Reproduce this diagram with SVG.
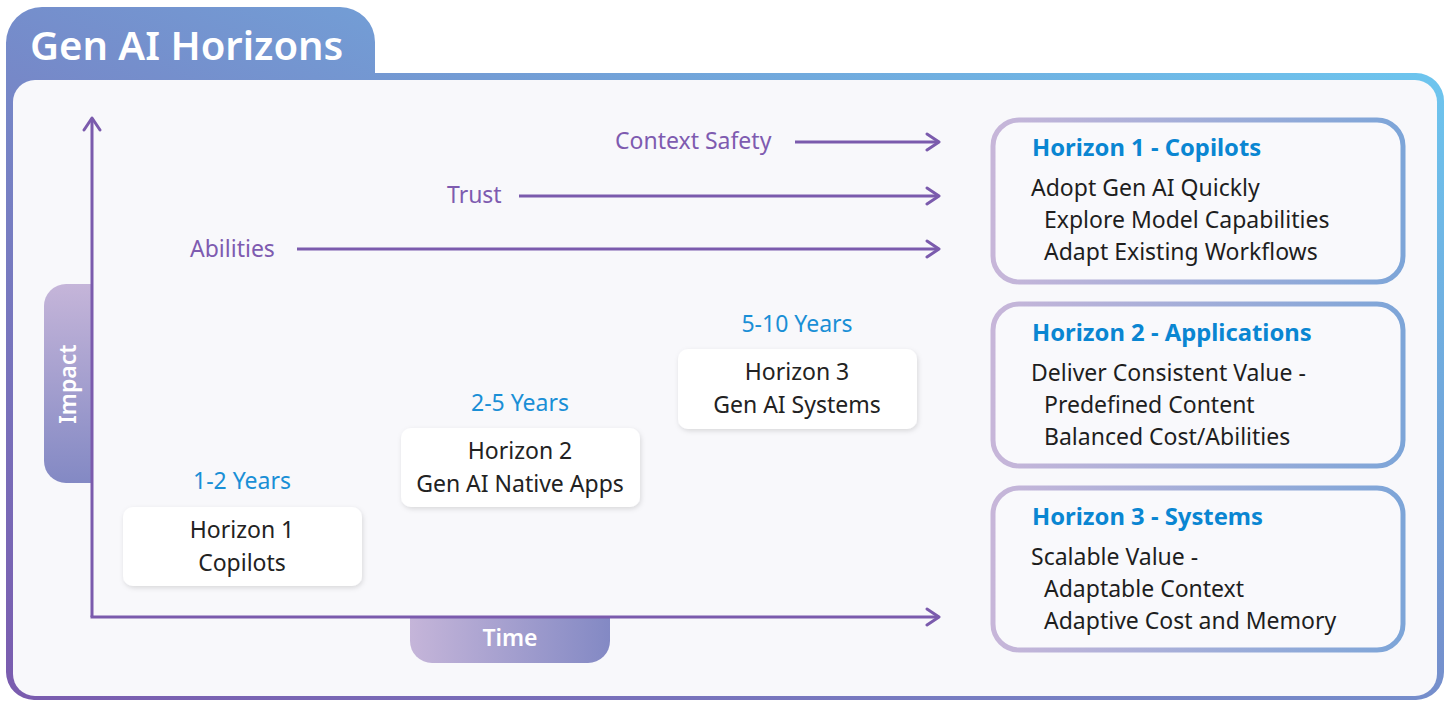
<svg xmlns="http://www.w3.org/2000/svg" width="1451" height="702" viewBox="0 0 1451 702">
<defs>
<linearGradient id="frameGrad" x1="0" y1="1" x2="1" y2="0">
<stop offset="0" stop-color="#7A5BAE"/>
<stop offset="0.45" stop-color="#7688C8"/>
<stop offset="1" stop-color="#6CCBF2"/>
</linearGradient>
<linearGradient id="vGrad" x1="0" y1="0" x2="0" y2="1">
<stop offset="0" stop-color="#C5B5D9"/>
<stop offset="1" stop-color="#8389C4"/>
</linearGradient>
<linearGradient id="hGrad" x1="0" y1="0" x2="1" y2="0">
<stop offset="0" stop-color="#C5B5D9"/>
<stop offset="1" stop-color="#8389C4"/>
</linearGradient>
<linearGradient id="boxGrad" x1="0" y1="0" x2="1" y2="0">
<stop offset="0" stop-color="#C7B6D9"/>
<stop offset="1" stop-color="#7DA5D8"/>
</linearGradient>
<filter id="shadow" x="-10%" y="-20%" width="120%" height="150%">
<feDropShadow dx="1" dy="2" stdDeviation="2.5" flood-color="#000" flood-opacity="0.13"/>
</filter>
<marker id="arrow" viewBox="0 0 16 20" refX="14" refY="10" markerWidth="16" markerHeight="20" markerUnits="userSpaceOnUse" orient="auto">
<path d="M2 2 L14 10 L2 18" fill="none" stroke="#7B5BAD" stroke-width="3" stroke-linecap="round" stroke-linejoin="round"/>
</marker>
</defs>
<style>
.axis{stroke:#7B5BAD;stroke-width:3;fill:none;marker-end:url(#arrow);}
.dim{font-family:"Noto Sans","Open Sans",sans-serif;font-size:23px;fill:#7E5BB0;}
.yr{font-family:"Noto Sans","Open Sans",sans-serif;font-size:23px;fill:#1A8FD6;text-anchor:middle;}
.card{fill:#FFFFFF;filter:url(#shadow);}
.cardText{font-family:"Noto Sans","Open Sans",sans-serif;font-size:23px;fill:#222222;text-anchor:middle;}
.hbox{fill:#F9F9FC;stroke:url(#boxGrad);stroke-width:5;}
.htitle{font-family:"Noto Sans","Open Sans",sans-serif;font-size:23.8px;font-weight:700;fill:#0A86D2;}
.hline{font-family:"Noto Sans","Open Sans",sans-serif;font-size:23px;fill:#1E1E1E;}
.tab{font-family:"Noto Sans","Open Sans",sans-serif;font-size:23px;font-weight:600;fill:#FFFFFF;text-anchor:middle;}
</style>

<g id="frame">
<path d="M6 43 A36 36 0 0 1 42 7 L340 7 A35 35 0 0 1 375 42 L375 73 L1416 73 A28 28 0 0 1 1444 101 L1444 672 A28 28 0 0 1 1416 700 L34 700 A28 28 0 0 1 6 672 Z" fill="url(#frameGrad)"/>
<rect x="13" y="80" width="1424" height="616" rx="22" fill="#F8F8FB"/>
<text x="30" y="60" font-family="'Noto Sans','Open Sans',sans-serif" font-size="40" font-weight="600" fill="#FFFFFF">Gen AI Horizons</text>
</g>

<g id="impact-label">
<path d="M92 284 L66 284 A22 22 0 0 0 44 306 L44 461 A22 22 0 0 0 66 483 L92 483 Z" fill="url(#vGrad)"/>
<text class="tab" transform="translate(76 384) rotate(-90)">Impact</text>
</g>

<g id="time-label">
<path d="M410 617 L610 617 L610 641 A22 22 0 0 1 588 663 L432 663 A22 22 0 0 1 410 641 Z" fill="url(#hGrad)"/>
<text class="tab" x="510" y="646">Time</text>
</g>

<g id="connectors">
<line class="axis" x1="92" y1="617" x2="92" y2="118"/>
<line class="axis" x1="90.5" y1="617" x2="939" y2="617"/>
<line class="axis" x1="795" y1="142" x2="939" y2="142"/>
<line class="axis" x1="519" y1="196" x2="939" y2="196"/>
<line class="axis" x1="297" y1="249" x2="939" y2="249"/>
</g>

<g id="dimension-labels">
<text class="dim" x="615" y="149">Context Safety</text>
<text class="dim" x="447" y="203">Trust</text>
<text class="dim" x="190" y="257">Abilities</text>
</g>

<g id="horizon1-card">
<text class="yr" x="242" y="489">1-2 Years</text>
<rect class="card" x="123" y="507" width="239" height="79" rx="10"/>
<text class="cardText" x="242" y="538">Horizon 1</text>
<text class="cardText" x="242" y="571">Copilots</text>
</g>

<g id="horizon2-card">
<text class="yr" x="520" y="411">2-5 Years</text>
<rect class="card" x="401" y="428" width="239" height="79" rx="10"/>
<text class="cardText" x="520" y="459">Horizon 2</text>
<text class="cardText" x="520" y="492">Gen AI Native Apps</text>
</g>

<g id="horizon3-card">
<text class="yr" x="797" y="332">5-10 Years</text>
<rect class="card" x="678" y="349" width="239" height="80" rx="10"/>
<text class="cardText" x="797" y="380">Horizon 3</text>
<text class="cardText" x="797" y="413">Gen AI Systems</text>
</g>

<g id="horizon1-detail">
<rect class="hbox" x="993" y="120" width="410" height="162" rx="26"/>
<text class="htitle" x="1032" y="156">Horizon 1 - Copilots</text>
<text class="hline" x="1031" y="196">Adopt Gen AI Quickly</text>
<text class="hline" x="1044" y="228">Explore Model Capabilities</text>
<text class="hline" x="1044" y="260">Adapt Existing Workflows</text>
</g>

<g id="horizon2-detail">
<rect class="hbox" x="993" y="304" width="410" height="162" rx="26"/>
<text class="htitle" x="1032" y="341">Horizon 2 - Applications</text>
<text class="hline" x="1031" y="381">Deliver Consistent Value -</text>
<text class="hline" x="1044" y="413">Predefined Content</text>
<text class="hline" x="1044" y="445">Balanced Cost/Abilities</text>
</g>

<g id="horizon3-detail">
<rect class="hbox" x="993" y="488" width="410" height="162" rx="26"/>
<text class="htitle" x="1032" y="525">Horizon 3 - Systems</text>
<text class="hline" x="1031" y="565">Scalable Value -</text>
<text class="hline" x="1044" y="597">Adaptable Context</text>
<text class="hline" x="1044" y="629">Adaptive Cost and Memory</text>
</g>
</svg>
